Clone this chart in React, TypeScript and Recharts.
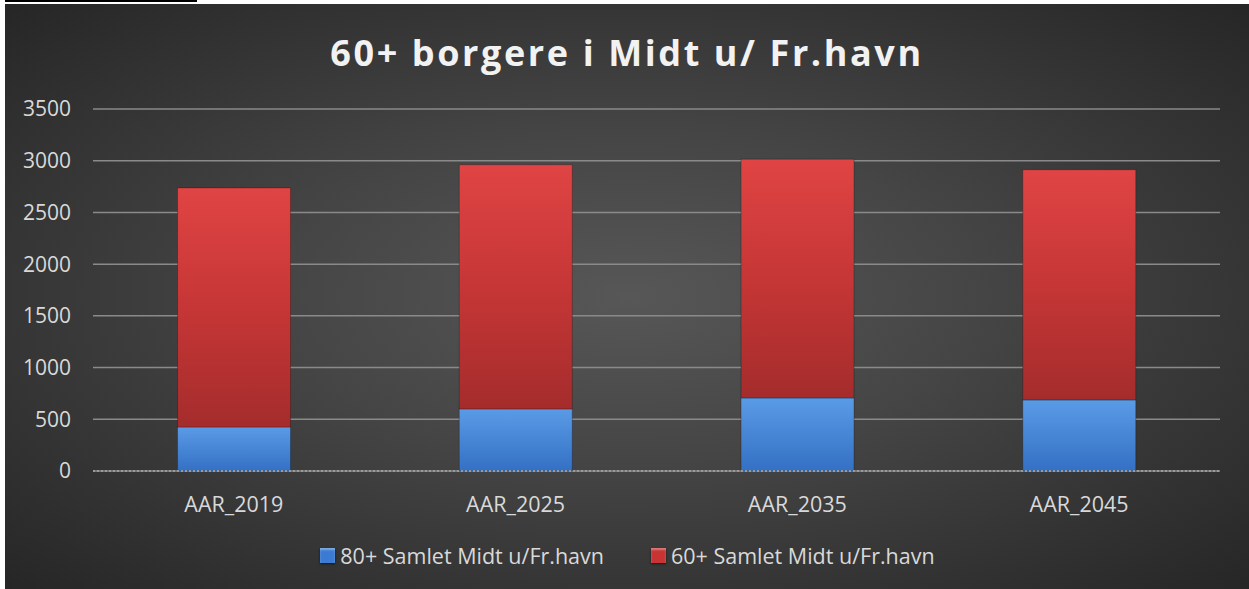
import { BarChart, Bar, XAxis, YAxis, CartesianGrid, Legend } from 'recharts';

const categories = ['AAR_2019', 'AAR_2025', 'AAR_2035', 'AAR_2045'];
const over80 = [425, 600, 706, 687];
const over60 = [2312, 2361, 2309, 2226];
const yTicks = [0, 500, 1000, 1500, 2000, 2500, 3000, 3500];

const series = [
  { key: 'over80', name: '80+ Samlet Midt u/Fr.havn', fill: 'url(#blueGrad)', swatch: '#3b7bd4' },
  { key: 'over60', name: '60+ Samlet Midt u/Fr.havn', fill: 'url(#redGrad)', swatch: '#c83434' },
];

const data = categories.map((name, i) => ({ name, over80: over80[i], over60: over60[i] }));

const FONT = '"Open Sans", "DejaVu Sans", sans-serif';

function LegendContent() {
  return (
    <div
      style={{
        display: 'flex',
        justifyContent: 'center',
        gap: 47,
        marginTop: 20,
        paddingLeft: 30,
        fontFamily: FONT,
        fontSize: 21.5,
        color: '#d9d9d9',
      }}
    >
      {series.map((s) => (
        <div key={s.key} style={{ display: 'flex', alignItems: 'center', gap: 5 }}>
          <div
            style={{
              width: 15,
              height: 15,
              background: s.swatch,
              boxShadow: 'inset 0 2px 2px rgba(255,255,255,0.35), 0 1px 2px rgba(0,0,0,0.6)',
            }}
          />
          <span>{s.name}</span>
        </div>
      ))}
    </div>
  );
}

export default function App() {
  return (
    <div style={{ position: 'absolute', left: 0, top: 0, width: 1249, height: 589, background: '#fff' }}>
      <div style={{ position: 'absolute', left: 5, top: 0, width: 192, height: 2, background: '#000' }} />
      <div
        style={{
          position: 'absolute',
          left: 5,
          top: 4,
          width: 1244,
          height: 585,
          background: 'radial-gradient(ellipse at 50% 50%, #575757 0%, #454545 40%, #262626 100%)',
        }}
      >
        <div
          style={{
            position: 'absolute',
            left: 0,
            top: 24,
            width: 1244,
            textAlign: 'center',
            fontFamily: FONT,
            fontWeight: 700,
            fontSize: 36,
            letterSpacing: 2.6,
            color: '#f2f2f2',
          }}
        >
          60+ borgere i Midt u/ Fr.havn
        </div>
        <BarChart
          width={1244}
          height={585}
          data={data}
          margin={{ top: 105, right: 29, left: 0, bottom: 0 }}
          barCategoryGap="30%"
          style={{ position: 'absolute', left: 0, top: 0 }}
        >
          <defs>
            <linearGradient id="redGrad" x1="0" y1="0" x2="0" y2="1">
              <stop offset="0%" stopColor="#e04444" />
              <stop offset="50%" stopColor="#c63636" />
              <stop offset="100%" stopColor="#a52c2c" />
            </linearGradient>
            <linearGradient id="blueGrad" x1="0" y1="0" x2="0" y2="1">
              <stop offset="0%" stopColor="#5a9be6" />
              <stop offset="100%" stopColor="#3470c4" />
            </linearGradient>
          </defs>
          <CartesianGrid vertical={false} stroke="#8a8a8a" strokeWidth={1.5} />
          <XAxis
            dataKey="name"
            axisLine={{ stroke: '#9a9a9a', strokeDasharray: '2 2', strokeWidth: 2 }}
            tickLine={false}
            tickSize={0}
            tickMargin={26}
            height={50}
            tick={{ fill: '#d9d9d9', fontSize: 21.5, fontFamily: FONT }}
          />
          <YAxis
            domain={[0, 3500]}
            ticks={yTicks}
            axisLine={false}
            tickLine={false}
            tickSize={0}
            tickMargin={22}
            width={88}
            tick={{ fill: '#d9d9d9', fontSize: 21, fontFamily: FONT }}
          />
          <Legend verticalAlign="bottom" height={68} content={() => <LegendContent />} />
          {series.map((s) => (
            <Bar
              key={s.key}
              dataKey={s.key}
              name={s.name}
              stackId="a"
              fill={s.fill}
              stroke="rgba(0,0,0,0.25)"
              strokeWidth={1}
              isAnimationActive={false}
            />
          ))}
        </BarChart>
      </div>
    </div>
  );
}
